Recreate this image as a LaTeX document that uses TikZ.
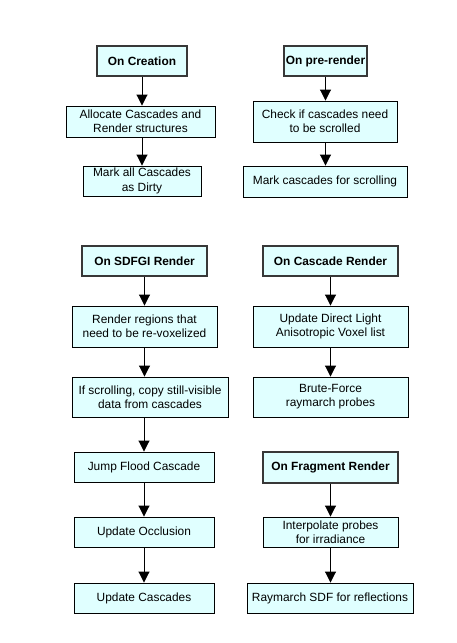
\documentclass[tikz,border=0pt]{standalone}
\usepackage{fontspec}
\setmainfont{Liberation Sans}
\usetikzlibrary{arrows.meta}
\definecolor{boxfill}{RGB}{224,255,255}
\tikzset{
  box/.style={draw=black, line width=0.9pt, fill=boxfill, inner sep=0pt, align=center,
    font=\fontsize{11.9}{14.2}\selectfont},
  titlebox/.style={box, line width=2.6pt, draw=black!78, font=\fontsize{11.9}{14.2}\selectfont\bfseries},
  arr/.style={line width=0.9pt, -{Triangle[width=11pt,length=11pt]}}
}
\begin{document}
\begin{tikzpicture}[x=1pt,y=1pt]
\useasboundingbox (0,0) rectangle (456,-643);
% top left
\node[titlebox, minimum width=90, minimum height=30] (cre) at (142,-61) {On Creation};
\node[box, minimum width=149, minimum height=31] (alloc) at (140.5,-121.5) {Allocate Cascades and\\Render structures};
\node[box, minimum width=118, minimum height=30] (markall) at (142,-181) {Mark all Cascades\\as Dirty};
% top right
\node[titlebox, minimum width=83, minimum height=30] (pre) at (325.5,-61) {On pre-render};
\node[box, minimum width=144, minimum height=41] (check) at (325,-121.5) {Check if cascades need\\to be scrolled};
\node[box, minimum width=164, minimum height=31] (markscr) at (325,-181.5) {Mark cascades for scrolling};
% SDFGI
\node[titlebox, minimum width=125, minimum height=30] (sdfgi) at (144.5,-261) {On SDFGI Render};
\node[box, minimum width=145, minimum height=41] (regions) at (144.5,-326.5) {Render regions that\\need to be re-voxelized};
\node[box, minimum width=156, minimum height=40] (scroll) at (150,-397) {If scrolling, copy still-visible\\data from cascades};
\node[box, minimum width=140, minimum height=30] (jump) at (144,-467) {Jump Flood Cascade};
\node[box, minimum width=140, minimum height=30] (occl) at (144,-532) {Update Occlusion};
\node[box, minimum width=140, minimum height=30] (upcasc) at (144,-598) {Update Cascades};
% cascade render
\node[titlebox, minimum width=135, minimum height=30] (casc) at (330.5,-261) {On Cascade Render};
\node[box, minimum width=155, minimum height=41] (direct) at (330.5,-326.5) {Update Direct Light\\Anisotropic Voxel list};
\node[box, minimum width=155, minimum height=40] (brute) at (330.5,-397) {Brute-Force\\raymarch probes};
% fragment render
\node[titlebox, minimum width=135, minimum height=31] (frag) at (330.5,-467.5) {On Fragment Render};
\node[box, minimum width=135, minimum height=30] (interp) at (330.5,-532) {Interpolate probes\\for irradiance};
\node[box, minimum width=166, minimum height=30] (raym) at (330,-598) {Raymarch SDF for reflections};
% arrows
\draw[arr] (cre.south) -- (cre.south |- alloc.north);
\draw[arr] (cre.south |- alloc.south) -- (markall.north);
\draw[arr] (pre.south) -- (pre.south |- check.north);
\draw[arr] (pre.south |- check.south) -- (pre.south |- markscr.north);
\draw[arr] (sdfgi.south) -- (regions.north);
\draw[arr] (regions.south) -- (regions.south |- scroll.north);
\draw[arr] (scroll.south -| jump.north) -- (jump.north);
\draw[arr] (jump.south) -- (occl.north);
\draw[arr] (occl.south) -- (upcasc.north);
\draw[arr] (casc.south) -- (direct.north);
\draw[arr] (direct.south) -- (brute.north);
\draw[arr] (frag.south) -- (interp.north);
\draw[arr] (interp.south) -- (interp.south |- raym.north);
\end{tikzpicture}
\end{document}
